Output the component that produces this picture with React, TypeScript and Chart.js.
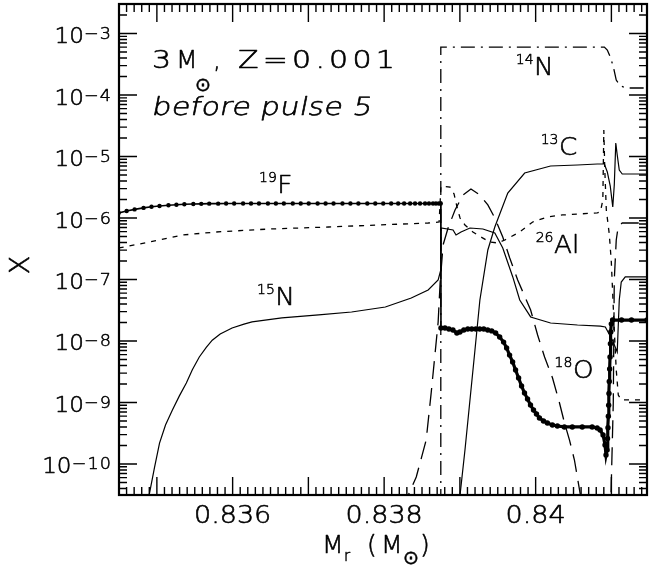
import React, { useEffect, useRef } from "react";
import { Chart, registerables } from "chart.js";

Chart.register(...registerables);

// ---- axis ranges and tick labels ----
const massMin = 0.8345;
const massMax = 0.84147;
const abundMin = 3.13e-11;
const abundMax = 3.02e-3;
const xTickValues = [0.836, 0.838, 0.84];
const xTickLabels = ["0.836", "0.838", "0.84"];
const yTickExponents = [-3, -4, -5, -6, -7, -8, -9, -10];

// ---- series: [M_r (Msun), mass fraction X] ----
const F19: number[][] = [
  [0.834496, 1.21e-6], [0.834601, 1.3e-6], [0.834706, 1.38e-6], [0.834824, 1.46e-6],
  [0.834929, 1.52e-6], [0.835035, 1.57e-6], [0.835153, 1.61e-6], [0.835258, 1.64e-6],
  [0.835363, 1.67e-6], [0.835481, 1.69e-6], [0.835586, 1.7e-6], [0.835691, 1.71e-6],
  [0.835809, 1.71e-6], [0.835914, 1.72e-6], [0.83602, 1.72e-6], [0.836138, 1.72e-6],
  [0.836243, 1.72e-6], [0.836348, 1.72e-6], [0.836466, 1.72e-6], [0.836571, 1.72e-6],
  [0.836676, 1.72e-6], [0.836794, 1.72e-6], [0.836899, 1.72e-6], [0.837004, 1.72e-6],
  [0.837122, 1.72e-6], [0.837227, 1.72e-6], [0.837332, 1.72e-6], [0.83745, 1.72e-6],
  [0.837555, 1.72e-6], [0.83766, 1.72e-6], [0.837778, 1.72e-6], [0.837883, 1.72e-6],
  [0.837988, 1.72e-6], [0.838093, 1.72e-6], [0.838185, 1.72e-6], [0.838264, 1.72e-6],
  [0.838343, 1.72e-6], [0.838408, 1.72e-6], [0.838474, 1.72e-6], [0.83854, 1.72e-6],
  [0.838592, 1.72e-6], [0.838645, 1.72e-6], [0.838684, 1.72e-6], [0.838723, 1.72e-6],
  [0.838748, 1.72e-6],
  [0.83875, 1.63e-8], [0.838803, 1.63e-8], [0.838855, 1.57e-8], [0.838908, 1.51e-8],
  [0.83896, 1.35e-8], [0.839, 1.4e-8], [0.839052, 1.51e-8], [0.839105, 1.57e-8],
  [0.839157, 1.57e-8], [0.83921, 1.57e-8], [0.839262, 1.57e-8], [0.839315, 1.57e-8],
  [0.839367, 1.51e-8], [0.83942, 1.46e-8], [0.839472, 1.35e-8], [0.839525, 1.16e-8],
  [0.839577, 9.6e-9], [0.839617, 7.7e-9], [0.839656, 5.9e-9], [0.839696, 4.56e-9],
  [0.839735, 3.38e-9], [0.839775, 2.5e-9], [0.839814, 1.85e-9], [0.839853, 1.43e-9],
  [0.839893, 1.14e-9], [0.839932, 9.1e-10], [0.839972, 7.55e-10], [0.840011, 6.5e-10],
  [0.84005, 5.6e-10], [0.840103, 5.0e-10], [0.840155, 4.64e-10], [0.840221, 4.31e-10],
  [0.840287, 4.15e-10], [0.840379, 4.0e-10], [0.840484, 4.0e-10], [0.840615, 4.0e-10],
  [0.840746, 4.0e-10], [0.840812, 3.85e-10], [0.840851, 3.57e-10], [0.84089, 2.96e-10],
  [0.840916, 2.04e-10], [0.840929, 1.4e-10], [0.840942, 1.69e-10], [0.840949, 2.6e-10],
  [0.840955, 3.9e-10], [0.84096, 6.0e-10], [0.840964, 9.0e-10], [0.840968, 1.4e-9],
  [0.840972, 2.2e-9], [0.840977, 3.5e-9], [0.840982, 5.5e-9], [0.840987, 9.0e-9],
  [0.840992, 1.4e-8], [0.840999, 1.9e-8], [0.841016, 2.19e-8], [0.841134, 2.19e-8],
  [0.841265, 2.19e-8], [0.841471, 2.19e-8],
];

const N15: number[][] = [
  [0.83487, 2.0e-11], [0.834903, 3.37e-11], [0.834969, 8.8e-11], [0.835035, 2.19e-10],
  [0.835114, 4.3e-10], [0.835205, 7.55e-10], [0.835297, 1.28e-9], [0.835389, 2.07e-9],
  [0.835468, 3.4e-9], [0.83556, 5.49e-9], [0.835652, 7.9e-9], [0.835731, 1.03e-8],
  [0.835836, 1.3e-8], [0.835993, 1.63e-8], [0.83615, 1.88e-8],
  [0.836256, 2.04e-8], [0.83665, 2.37e-8], [0.837136, 2.65e-8], [0.83757, 2.96e-8],
  [0.838016, 3.57e-8], [0.838358, 5.0e-8], [0.838581, 6.75e-8], [0.838713, 9.82e-8],
  [0.838748, 1.43e-7], [0.838752, 6.88e-7], [0.83891, 6.38e-7], [0.838949, 5.29e-7],
  [0.839015, 5.92e-7], [0.839133, 6.88e-7], [0.839304, 6.62e-7], [0.839461, 5.7e-7],
  [0.839566, 3.25e-7], [0.839698, 1.1e-7], [0.83979, 4.64e-8], [0.839934, 2.46e-8],
  [0.840197, 1.96e-8], [0.840552, 1.82e-8], [0.840854, 1.75e-8], [0.84092, 1.69e-8],
  [0.841012, 1.04e-8], [0.841077, 6.62e-9], [0.841104, 4.64e-8], [0.84113, 9.1e-8],
  [0.841183, 1.1e-7], [0.841471, 1.1e-7],
];

const N14: number[][] = [
  [0.838748, 1e-12], [0.838748, 6.03e-4], [0.840907, 6.03e-4], [0.840946, 5.39e-4],
  [0.840985, 4.15e-4], [0.841025, 2.9e-4], [0.841064, 1.75e-4], [0.841117, 1.4e-4],
  [0.841209, 1.3e-4], [0.841471, 1.3e-4],
];

const C13: number[][] = [
  [0.838969, 1.2e-11], [0.839002, 3.13e-11], [0.839067, 1.69e-10], [0.839133, 1.1e-9],
  [0.839199, 7.14e-9], [0.839264, 4.64e-8], [0.839369, 3.02e-7], [0.839461, 7.14e-7],
  [0.839632, 2.55e-6], [0.839855, 5.39e-6], [0.840197, 7.01e-6], [0.840552, 7.28e-6],
  [0.840814, 7.55e-6], [0.840907, 7.55e-6], [0.840946, 5.6e-6], [0.840985, 3.31e-6],
  [0.841018, 1.51e-6], [0.841038, 3.44e-6], [0.841058, 1.66e-5], [0.841077, 1.06e-5],
  [0.841104, 6.03e-6], [0.841143, 5.19e-6], [0.841471, 5.19e-6],
];

const Al26: number[][] = [
  [0.834496, 3.25e-7], [0.834903, 4.07e-7], [0.835337, 5.29e-7], [0.835783, 5.92e-7],
  [0.83648, 6.62e-7], [0.837268, 7.14e-7], [0.837924, 7.7e-7], [0.838581, 8.3e-7],
  [0.838726, 8.61e-7], [0.83875, 3.31e-6], [0.83887, 3.19e-6], [0.838923, 2.46e-6],
  [0.838962, 1.51e-6], [0.839002, 1.0e-6], [0.839067, 7.7e-7], [0.839172, 5.92e-7],
  [0.839277, 4.91e-7], [0.839396, 4.07e-7], [0.839501, 3.92e-7], [0.839593, 4.39e-7],
  [0.83979, 5.92e-7], [0.839961, 8.61e-7], [0.840158, 1.04e-6], [0.840355, 1.12e-6],
  [0.840814, 1.21e-6], [0.840854, 1.25e-6], [0.840887, 1.96e-6], [0.8409, 2.7e-5],
  [0.840913, 6.03e-6], [0.840933, 1.35e-6], [0.840972, 5.49e-7], [0.840999, 1.93e-7],
  [0.841018, 5.6e-8], [0.841038, 1.51e-8], [0.841064, 3.38e-9], [0.841091, 1.32e-9],
  [0.84113, 1.1e-9], [0.841471, 1.1e-9],
];

const O18: number[][] = [
  [0.838253, 1.79e-11], [0.838319, 3.13e-11], [0.838424, 6.15e-11], [0.838555, 2.45e-10],
  [0.838621, 1.43e-9], [0.838673, 6.38e-9], [0.838713, 2.04e-8], [0.838739, 8.77e-8],
  [0.838778, 3.64e-7], [0.838844, 6.88e-7], [0.838936, 1.35e-6], [0.839041, 2.37e-6],
  [0.839146, 2.96e-6], [0.839264, 2.37e-6], [0.839369, 1.63e-6], [0.839461, 1.0e-6],
  [0.839566, 4.91e-7], [0.839658, 2.24e-7], [0.839763, 9.82e-8], [0.839934, 3.19e-8],
  [0.840026, 1.25e-8], [0.840118, 5.49e-9], [0.840223, 2.5e-9], [0.840315, 9.82e-10],
  [0.840381, 4.64e-10], [0.840447, 2.45e-10], [0.840512, 1.16e-10], [0.840591, 3.13e-11],
  [0.840657, 8.5e-12], [0.840985, 1.0e-11], [0.841025, 1.0e-9], [0.841038, 9.82e-8],
  [0.841064, 4.39e-7], [0.841091, 7.41e-7], [0.841143, 8.3e-7], [0.841471, 8.3e-7],
];

// isotope label anchors (data coordinates)
const labelSup = ["19", "15", "14", "13", "26", "18"];
const labelMain = ["F", "N", "N", "C", "Al", "O"];
const labelMass = [0.836348, 0.836322, 0.839737, 0.840066, 0.84, 0.84025];
const labelAbund = [2.55e-6, 3.85e-8, 2.11e-4, 1.06e-5, 2.7e-7, 2.5e-9];

const FAMILY = "'DejaVu Sans', 'Liberation Sans', sans-serif";
const f = (size: number) => `200 ${size}px ${FAMILY}`;

// draw text with optional horizontal stretch, slant and letter spacing; returns drawn width
function txt(ctx: any, s: string, x: number, y: number, font: string, opts: any = {}) {
  const sx = opts.sx ?? 1;
  const ls = opts.ls ?? 0;
  const skew = opts.skew ?? 0;
  ctx.save();
  ctx.font = font;
  ctx.letterSpacing = `${ls}px`;
  ctx.textAlign = opts.align ?? "left";
  ctx.textBaseline = opts.baseline ?? "alphabetic";
  ctx.translate(x, y);
  ctx.transform(sx, 0, -skew, 1, 0, 0);
  ctx.fillText(s, 0, 0);
  ctx.lineWidth = opts.stroke ?? 0.6;
  ctx.lineJoin = "round";
  ctx.strokeText(s, 0, 0);
  const w = ctx.measureText(s).width * sx;
  ctx.restore();
  return w;
}

const decor = {
  id: "decor",
  afterDraw(chart: any) {
    const { ctx, chartArea: a, scales } = chart;
    const xs = scales.x;
    const ys = scales.y;
    ctx.save();
    ctx.strokeStyle = "#000";
    ctx.fillStyle = "#000";

    // ticks
    ctx.lineWidth = 1.4;
    ctx.beginPath();
    for (let k = 8345; k <= 8414; k++) {
      const px = xs.getPixelForValue(k / 10000);
      const len = k % 10 === 0 ? 18 : 8;
      ctx.moveTo(px, a.bottom);
      ctx.lineTo(px, a.bottom - len);
      ctx.moveTo(px, a.top);
      ctx.lineTo(px, a.top + len);
    }
    for (let e = -11; e <= -2; e++) {
      for (let m = 1; m <= 9; m++) {
        const v = m * Math.pow(10, e);
        if (v < abundMin || v > abundMax) continue;
        const py = ys.getPixelForValue(v);
        const len = m === 1 ? 18 : 8;
        ctx.moveTo(a.left, py);
        ctx.lineTo(a.left + len, py);
        ctx.moveTo(a.right, py);
        ctx.lineTo(a.right - len, py);
      }
    }
    ctx.stroke();

    // frame
    ctx.lineWidth = 2.2;
    ctx.strokeRect(a.left, a.top, a.right - a.left, a.bottom - a.top);

    // y tick labels
    for (const e of yTickExponents) {
      const py = ys.getPixelForValue(Math.pow(10, e));
      const sup = "\u2212" + Math.abs(e);
      const rx = a.left - 7;
      const w = txt(ctx, sup, rx, py + 5.5, f(16), { align: "right", ls: 1, sx: 1.1, stroke: 0.5 });
      txt(ctx, "10", rx - w, py + 9.5, f(22), { align: "right", sx: 1.05 });
    }

    // x tick labels
    xTickValues.forEach((v, i) => {
      txt(ctx, xTickLabels[i], xs.getPixelForValue(v), a.bottom + 28, f(25), { align: "center", sx: 1.08 });
    });

    // axis titles
    txt(ctx, "M", 322, 553, f(25));
    txt(ctx, "r", 344, 561, f(15), { stroke: 0.5 });
    txt(ctx, "(", 367, 553, f(25));
    txt(ctx, "M", 381, 553, f(25));
    txt(ctx, "\u2299", 403, 564, f(19), { stroke: 0.5 });
    txt(ctx, ")", 420, 553, f(25));

    ctx.save();
    ctx.translate(22, 265);
    ctx.rotate(-Math.PI / 2);
    txt(ctx, "X", 0, 0, f(27), { align: "center", baseline: "middle" });
    ctx.restore();

    // annotation
    txt(ctx, "3", 152, 68, f(25), { sx: 1.2 });
    txt(ctx, "M", 176, 68, f(25));
    txt(ctx, "\u2299", 195, 91, f(19), { stroke: 0.5 });
    txt(ctx, ",", 213, 68, f(25));
    txt(ctx, "Z=0.001", 238, 68, f(25), { sx: 1.2, ls: 3.5 });
    txt(ctx, "before pulse 5", 151, 115, f(25), { sx: 1.2, ls: 0.3, skew: 0.2 });

    // isotope labels
    labelSup.forEach((s, i) => {
      const px = xs.getPixelForValue(labelMass[i]);
      const py = ys.getPixelForValue(labelAbund[i]);
      const w = txt(ctx, s, px, py - 11, f(14), { stroke: 0.5 });
      txt(ctx, labelMain[i], px + w + 0.5, py, f(25), { sx: 1.05 });
    });

    ctx.restore();
  },
};

const pts = (arr: number[][]) => arr.map(([x, y]) => ({ x, y }));

export default function App() {
  const ref = useRef<HTMLCanvasElement>(null);
  useEffect(() => {
    const canvas = ref.current;
    if (!canvas) return;
    const base = { showLine: true, borderColor: "#000", backgroundColor: "#000", pointRadius: 0, fill: false };
    const chart = new Chart(canvas, {
      type: "scatter",
      data: {
        datasets: [
          { ...base, label: "14N", data: pts(N14), borderWidth: 1.3, borderDash: [14, 6, 2, 6] },
          { ...base, label: "18O", data: pts(O18), borderWidth: 1.3, borderDash: [18, 9] },
          { ...base, label: "26Al", data: pts(Al26), borderWidth: 1.3, borderDash: [5, 6] },
          { ...base, label: "13C", data: pts(C13), borderWidth: 1.2 },
          { ...base, label: "15N", data: pts(N15), borderWidth: 1.2 },
          {
            ...base,
            label: "19F",
            data: pts(F19),
            borderWidth: 1.6,
            segment: {
              borderWidth: (c: any) => (c.p0.parsed.x >= 0.83875 ? 3.2 : 1.6),
            },
            pointRadius: (c: any) => (c.raw && c.raw.x >= 0.83875 ? 2.7 : 2.2),
            pointBackgroundColor: "#000",
            pointBorderWidth: 0,
          },
        ],
      } as any,
      options: {
        responsive: false,
        animation: false,
        devicePixelRatio: 1,
        events: [],
        layout: { padding: { left: 119, top: 4, right: 1, bottom: 70 } },
        scales: {
          x: { type: "linear", min: massMin, max: massMax, display: false, bounds: "data" },
          y: { type: "logarithmic", min: abundMin, max: abundMax, display: false, bounds: "data" },
        },
        plugins: { legend: { display: false }, tooltip: { enabled: false } },
      } as any,
      plugins: [decor],
    });
    return () => chart.destroy();
  }, []);
  return (
    <div style={{ position: "fixed", left: 0, top: 0, width: 651, height: 565, background: "#fff" }}>
      <canvas ref={ref} width={651} height={565} style={{ display: "block" }} />
    </div>
  );
}
